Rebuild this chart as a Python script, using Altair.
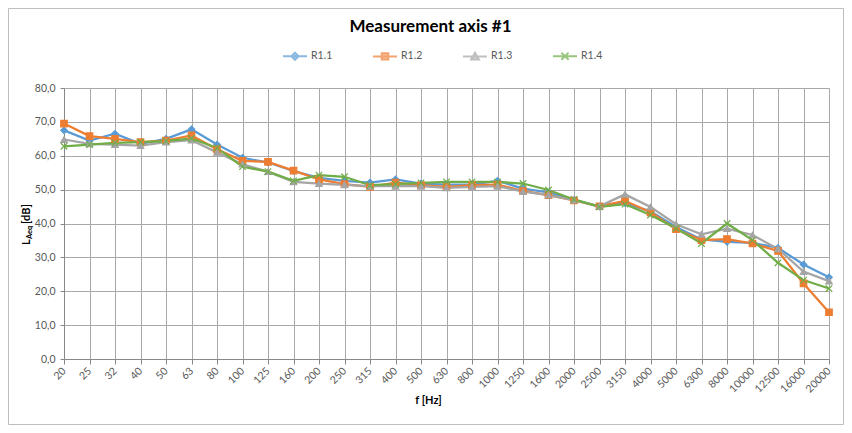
import altair as alt
import pandas as pd

freqs = ["20", "25", "32", "40", "50", "63", "80", "100", "125", "160", "200", "250",
         "315", "400", "500", "630", "800", "1000", "1250", "1600", "2000", "2500",
         "3150", "4000", "5000", "6300", "8000", "10000", "12500", "16000", "20000"]

r11 = [67.5, 64.5, 66.5, 63.5, 65.0, 67.8, 63.3, 59.4, 58.0, 55.5, 53.5, 52.6,
       52.1, 53.0, 51.8, 51.5, 51.5, 52.6, 50.3, 49.2, 47.0, 45.0, 46.0, 43.6,
       39.0, 35.3, 34.6, 34.3, 32.8, 27.9, 24.1]
r12 = [69.5, 65.8, 65.0, 64.0, 64.5, 66.0, 61.9, 58.5, 58.2, 55.6, 53.0, 51.6,
       50.8, 52.1, 51.3, 50.8, 51.3, 51.5, 49.6, 48.4, 46.8, 45.1, 46.7, 43.3,
       38.3, 35.1, 35.4, 34.1, 31.9, 22.3, 13.8]
r13 = [64.8, 63.5, 63.3, 63.0, 64.0, 64.6, 61.0, 57.5, 55.3, 52.3, 51.8, 51.4,
       51.0, 51.0, 51.0, 50.5, 50.8, 51.0, 49.4, 48.4, 46.9, 45.1, 48.6, 44.9,
       39.8, 36.8, 38.5, 36.6, 32.5, 25.8, 23.0]
r14 = [62.8, 63.3, 63.8, 64.0, 64.3, 65.1, 62.3, 56.8, 55.3, 52.6, 54.3, 53.8,
       51.3, 51.6, 52.0, 52.3, 52.3, 52.3, 51.8, 49.9, 47.1, 44.9, 45.7, 42.5,
       38.6, 34.1, 40.0, 35.1, 28.4, 23.3, 20.8]

series_names = ["R1.1", "R1.2", "R1.3", "R1.4"]
series_values = [r11, r12, r13, r14]
colors = ["#5B9BD5", "#ED7D31", "#A5A5A5", "#70AD47"]
marker_shapes = ["diamond", "square", "triangle-up", "M-1,-1L1,1M-1,1L1,-1"]
legend_shapes = [
    "M-1,0H1M0,-0.3L0.3,0L0,0.3L-0.3,0Z",
    "M-1,0H1M-0.27,-0.27H0.27V0.27H-0.27Z",
    "M-1,0H1M0,-0.3L0.32,0.26L-0.32,0.26Z",
    "M-1,0H1M-0.3,-0.3L0.3,0.3M-0.3,0.3L0.3,-0.3",
]
y_ticks = [0, 10, 20, 30, 40, 50, 60, 70, 80]

rows = []
for name, vals in zip(series_names, series_values):
    for f, v in zip(freqs, vals):
        rows.append({"f": f, "series": name, "v": v})
df = pd.DataFrame(rows)

W, H = 765, 271
PL, PT, PR, PB = 56, 80, 15, 66
FONT = "Lato"
LABEL_COLOR = "#595959"
GRID = "#a8a8a8"

x_enc = alt.X(
    "f:N", sort=freqs, scale=alt.Scale(type="point", padding=0),
    axis=alt.Axis(
        title="f [Hz]", labelAngle=-45, labelAlign="right", labelBaseline="middle",
        labelPadding=5, labelFont=FONT, labelFontSize=10.5, labelColor=LABEL_COLOR,
        tickSize=5, tickColor="#888888", domainColor="#888888", grid=True,
        gridColor=GRID, titleFont=FONT, titleFontSize=11, titleFontWeight="bold",
        titleColor="#000000", titleX=364, titleY=41, titleAlign="center",
        titleBaseline="middle", labelOverlap=False,
    ),
)
y_enc = alt.Y(
    "v:Q", scale=alt.Scale(domain=[0, 80], nice=False, zero=True),
    axis=alt.Axis(
        title=None, values=y_ticks,
        labelExpr="replace(format(datum.value, '.1f'), '.', ',')",
        labelFont=FONT, labelFontSize=10.5, labelColor=LABEL_COLOR, labelPadding=5,
        tickSize=4, tickColor="#888888", domainColor="#888888", grid=True,
        gridColor=GRID,
    ),
)
color_scale = alt.Scale(domain=series_names, range=colors)

base = alt.Chart(df)

lines = base.mark_line(strokeWidth=2.25).encode(
    x=x_enc, y=y_enc,
    color=alt.Color("series:N", scale=color_scale, legend=None),
)
points = base.mark_point(filled=True, size=42, strokeWidth=1.2, opacity=1).encode(
    x=x_enc, y=y_enc,
    color=alt.Color("series:N", scale=color_scale, legend=None),
    stroke=alt.Stroke("series:N", scale=color_scale, legend=None),
    shape=alt.Shape("series:N", scale=alt.Scale(domain=series_names, range=marker_shapes), legend=None),
)

leg = alt.Legend(
    title=None, orient="none", legendX=218, legendY=-45, direction="horizontal",
    symbolSize=576, symbolStrokeWidth=2, labelFont=FONT, labelFontSize=10.5,
    labelColor=LABEL_COLOR, labelOffset=3, columnPadding=36, padding=0,
)
legend_layer = base.mark_point(filled=True).encode(
    x=x_enc, y=y_enc,
    fill=alt.Fill("series:N", scale=color_scale, legend=leg),
    stroke=alt.Stroke("series:N", scale=color_scale, legend=leg),
    shape=alt.Shape("series:N", scale=alt.Scale(domain=series_names, range=legend_shapes), legend=leg),
).transform_filter("false")

one = alt.Data(values=[{"k": 1}])
border = alt.Chart(one).mark_rect(filled=False, stroke="#bdbdbd", strokeWidth=1).encode(
    x=alt.value(-PL + 0.5), x2=alt.value(W + PR - 0.5),
    y=alt.value(-PT + 0.5), y2=alt.value(H + PB - 0.5),
)
yt1 = alt.Chart(one).mark_text(angle=270, align="left", baseline="alphabetic", font=FONT,
                               fontWeight="bold", fontSize=11, color="#000000").encode(
    x=alt.value(-34.5), y=alt.value(157), text=alt.value("L"))
yt2 = alt.Chart(one).mark_text(angle=270, align="left", baseline="alphabetic", font=FONT,
                               fontWeight="bold", fontSize=7.5, color="#000000").encode(
    x=alt.value(-32.5), y=alt.value(151), text=alt.value("Aeq"))
yt3 = alt.Chart(one).mark_text(angle=270, align="left", baseline="alphabetic", font=FONT,
                               fontWeight="bold", fontSize=11, color="#000000").encode(
    x=alt.value(-34.5), y=alt.value(136), text=alt.value("[dB]"))

chart = alt.layer(border, lines, points, legend_layer, yt1, yt2, yt3).resolve_scale(
    shape="independent", fill="independent", stroke="independent"
).properties(
    width=W, height=H,
    title=alt.Title("Measurement axis #1", anchor="middle", dx=-16, offset=-28,
                    font=FONT, fontSize=17, fontWeight="bold", color="#000000"),
    autosize=alt.AutoSizeParams(type="none"),
    padding={"left": PL, "top": PT, "right": PR, "bottom": PB},
).configure_view(stroke=None).configure(background="white")

chart.save("out.html", embed_options={"renderer": "svg", "actions": False})
